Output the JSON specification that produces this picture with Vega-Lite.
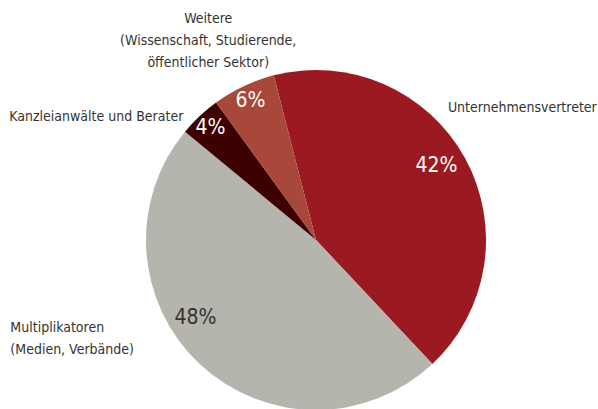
{
  "$schema": "https://vega.github.io/schema/vega-lite/v6.json",
  "width": 564,
  "height": 338,
  "autosize": {"type": "none"},
  "padding": {"left": 34, "top": 71, "right": 0, "bottom": 0},
  "background": "#ffffff",
  "config": {"view": {"stroke": null}, "text": {"font": "DejaVu Sans Condensed"}},
  "data": {
    "values": [
      {"group": "Unternehmensvertreter", "share": 42, "order": 1, "pct": "42%", "label": ["Unternehmensvertreter"]},
      {"group": "Multiplikatoren", "share": 48, "order": 2, "pct": "48%", "label": ["Multiplikatoren", "(Medien, Verbände)"]},
      {"group": "Kanzleianwälte und Berater", "share": 4, "order": 3, "pct": "4%", "label": ["Kanzleianwälte und Berater"]},
      {"group": "Weitere", "share": 6, "order": 4, "pct": "6%", "label": ["Weitere", "(Wissenschaft, Studierende,", "öffentlicher Sektor)"]}
    ]
  },
  "encoding": {
    "theta": {"field": "share", "type": "quantitative", "stack": true, "scale": {"range": [-0.2513, 6.0319]}},
    "order": {"field": "order", "type": "quantitative"}
  },
  "layer": [
    {
      "mark": {"type": "arc", "outerRadius": 170},
      "encoding": {
        "color": {
          "field": "group", "type": "nominal", "legend": null,
          "scale": {
            "domain": ["Unternehmensvertreter", "Multiplikatoren", "Kanzleianwälte und Berater", "Weitere"],
            "range": ["#9b1a21", "#b5b4ad", "#3d0000", "#a8483a"]
          }
        }
      }
    },
    {
      "mark": {"type": "text", "radius": 154, "fontSize": 21, "fill": "#ffffff", "align": "center", "baseline": "middle"},
      "encoding": {"text": {"condition": {"test": "datum.share < 10", "field": "pct"}, "value": ""}}
    },
    {
      "mark": {"type": "text", "radius": 141, "fontSize": 21, "fill": "#ffffff", "align": "center", "baseline": "middle", "dx": -3, "dy": -6},
      "encoding": {"text": {"condition": {"test": "datum.group === 'Unternehmensvertreter'", "field": "pct"}, "value": ""}}
    },
    {
      "mark": {"type": "text", "radius": 144, "fontSize": 21, "fill": "#333333", "align": "center", "baseline": "middle", "dx": -22, "dy": -27},
      "encoding": {"text": {"condition": {"test": "datum.group === 'Multiplikatoren'", "field": "pct"}, "value": ""}}
    },
    {
      "mark": {"type": "text", "radius": 195, "fontSize": 14, "fill": "#333333", "align": "left", "baseline": "middle", "dx": -39, "dy": -38},
      "encoding": {"text": {"condition": {"test": "datum.group === 'Unternehmensvertreter'", "field": "label"}, "value": ""}}
    },
    {
      "mark": {"type": "text", "radius": 185, "fontSize": 14, "fill": "#333333", "align": "center", "baseline": "bottom", "lineHeight": 22, "dx": -29, "dy": -47},
      "encoding": {"text": {"condition": {"test": "datum.group === 'Weitere'", "field": "label"}, "value": ""}}
    },
    {
      "mark": {"type": "text", "radius": 185, "fontSize": 14, "fill": "#333333", "align": "right", "baseline": "middle", "dx": -6, "dy": 12},
      "encoding": {"text": {"condition": {"test": "datum.group === 'Kanzleianwälte und Berater'", "field": "label"}, "value": ""}}
    },
    {
      "mark": {"type": "text", "radius": 185, "fontSize": 14, "fill": "#333333", "align": "left", "baseline": "middle", "lineHeight": 22, "dx": -179, "dy": -47},
      "encoding": {"text": {"condition": {"test": "datum.group === 'Multiplikatoren'", "field": "label"}, "value": ""}}
    }
  ]
}
